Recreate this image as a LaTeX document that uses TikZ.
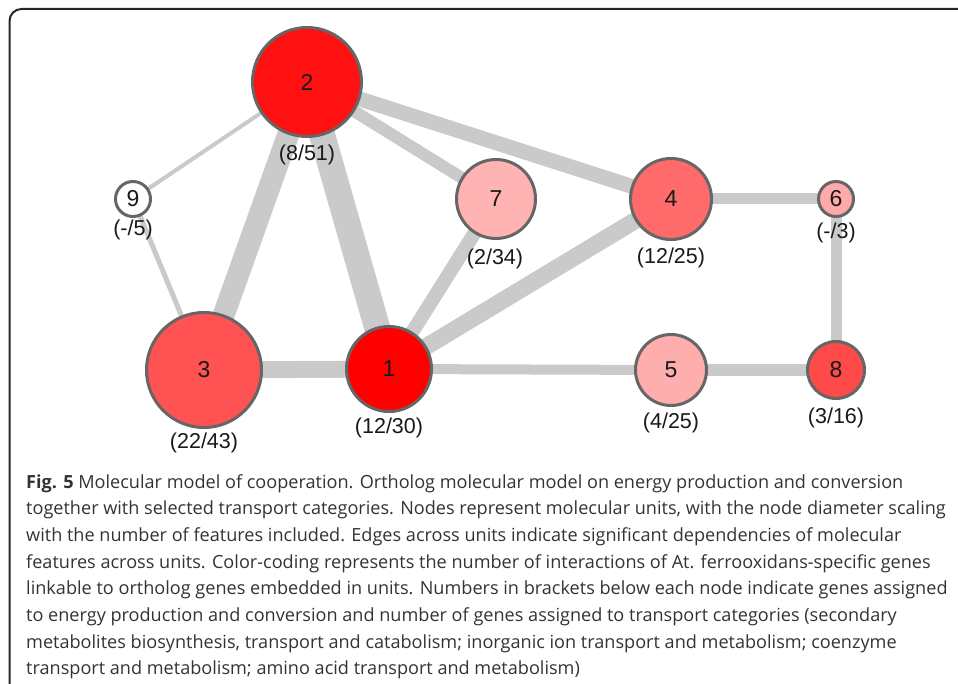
\documentclass[tikz,border=0pt]{standalone}
\usepackage{fontspec}
\setmainfont{Liberation Sans}
\newfontfamily\capfont{Open Sans}
\usetikzlibrary{backgrounds}
\definecolor{edgegray}{HTML}{CACACA}
\definecolor{rimgray}{HTML}{666666}
\definecolor{capgray}{HTML}{333333}
\definecolor{uA}{HTML}{FF0000}
\definecolor{uB}{HTML}{FF1111}
\definecolor{uC}{HTML}{FF5252}
\definecolor{uD}{HTML}{FF6B6B}
\definecolor{uE}{HTML}{FFAEAE}
\definecolor{uF}{HTML}{FFAAAA}
\definecolor{uG}{HTML}{FFB3B3}
\definecolor{uH}{HTML}{FF4A4A}
\begin{document}
\begin{tikzpicture}[x=1pt,y=-1pt,
  unit/.style={circle,draw=rimgray,line width=3pt,inner sep=0pt,text=black!90,font=\fontsize{23}{23}\selectfont},
  lab/.style={inner sep=0pt,text=black!90,font=\fontsize{21.5}{22}\selectfont},
  link/.style={draw=edgegray,line width=#1}]
\useasboundingbox (0,0) rectangle (958,684);
\draw[line width=2pt,rounded corners=12pt,draw=black!85] (9.5,700) -- (9.5,9) -- (970,9);
\node[unit,fill=uB,minimum size=109pt] (u2) at (307,82) {2};
\node[unit,fill=white,minimum size=35pt] (u9) at (133,199) {9};
\node[unit,fill=uG,minimum size=79pt] (u7) at (496,199) {7};
\node[unit,fill=uD,minimum size=81pt] (u4) at (671,199) {4};
\node[unit,fill=uF,minimum size=35pt] (u6) at (836,199) {6};
\node[unit,fill=uC,minimum size=115pt] (u3) at (204,370) {3};
\node[unit,fill=uA,minimum size=85pt] (u1) at (389,369) {1};
\node[unit,fill=uE,minimum size=71pt] (u5) at (671,370) {5};
\node[unit,fill=uH,minimum size=57pt] (u8) at (836,370) {8};
\node[lab] (n2) at (307,155) {(8/51)};
\node[lab] (n9) at (133,230) {(-/5)};
\node[lab] (n7) at (495,259) {(2/34)};
\node[lab] (n4) at (671,258) {(12/25)};
\node[lab] (n6) at (836,233) {(-/3)};
\node[lab] (n3) at (204,443) {(22/43)};
\node[lab] (n1) at (389,428) {(12/30)};
\node[lab] (n5) at (671,423) {(4/25)};
\node[lab] (n8) at (836,418) {(3/16)};
\begin{scope}[on background layer]
\draw[link=26pt] (u2.center) -- (u1.center);
\draw[link=22pt] (u2.center) -- (u3.center);
\draw[link=17pt] (u3.center) -- (u1.center);
\draw[link=17pt] (u1.center) -- (u4.center);
\draw[link=15pt] (u2.center) -- (u4.center);
\draw[link=14pt] (u1.center) -- (u7.center);
\draw[link=12pt] (u2.center) -- (u7.center);
\draw[link=12pt] (u5.center) -- (u8.center);
\draw[link=11pt] (u4.center) -- (u6.center);
\draw[link=11pt] (u6.center) -- (u8.center);
\draw[link=10pt] (u1.center) -- (u5.center);
\draw[link=5pt] (u9.center) -- (u3.center);
\draw[link=4pt] (u2.center) -- (u9.center);
\end{scope}
\node[anchor=north west,inner sep=0pt,align=left,text=capgray,font=\capfont\fontsize{18.1}{26.7}\selectfont] (cap) at (26,474) {{\bfseries Fig. 5} Molecular model of cooperation. Ortholog molecular model on energy production and conversion\\
together with selected transport categories. Nodes represent molecular units, with the node diameter scaling\\
with the number of features included. Edges across units indicate significant dependencies of molecular\\
features across units. Color-coding represents the number of interactions of At. ferrooxidans-specific genes\\
linkable to ortholog genes embedded in units. Numbers in brackets below each node indicate genes assigned\\
to energy production and conversion and number of genes assigned to transport categories (secondary\\
metabolites biosynthesis, transport and catabolism; inorganic ion transport and metabolism; coenzyme\\
transport and metabolism; amino acid transport and metabolism)};
\end{tikzpicture}
\end{document}
